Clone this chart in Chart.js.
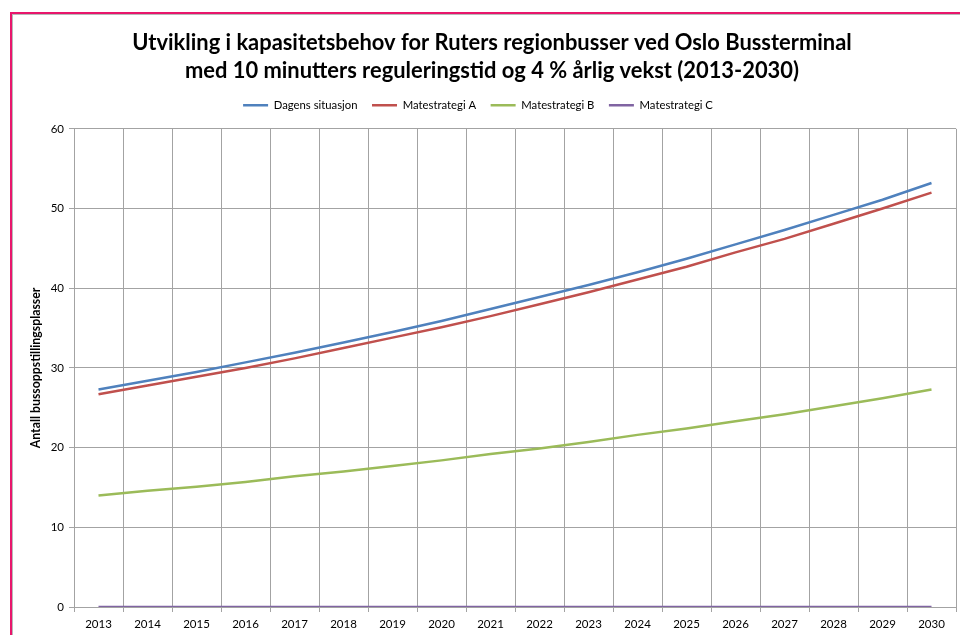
<!DOCTYPE html>
<html>
<head>
<meta charset="utf-8">
<script src="https://cdn.jsdelivr.net/npm/chart.js@4/dist/chart.umd.min.js"></script>
<style>
  html, body { margin: 0; padding: 0; background: #fff; overflow: hidden; }
  #wrap { position: relative; width: 960px; height: 635px; }
  #frame { position: absolute; left: 10px; top: 12px; width: 980px; height: 660px;
           border: 2px solid #e8166c; box-shadow: inset 1px 1px 0 #b8b8b8; pointer-events: none; }
</style>
</head>
<body>
<div id="wrap">
  <canvas id="chart" width="960" height="635"></canvas>
  <div id="frame"></div>
</div>
<script>
const years = ['2013','2014','2015','2016','2017','2018','2019','2020','2021','2022','2023','2024','2025','2026','2027','2028','2029','2030'];
const dagens = [27.3, 28.4, 29.5, 30.7, 31.9, 33.2, 34.5, 35.9, 37.4, 38.9, 40.4, 42.0, 43.7, 45.5, 47.3, 49.2, 51.1, 53.2];
const strategiA = [26.7, 27.8, 28.9, 30.0, 31.2, 32.5, 33.8, 35.1, 36.5, 38.0, 39.5, 41.1, 42.7, 44.5, 46.2, 48.1, 50.0, 52.0];
const strategiB = [14.0, 14.6, 15.1, 15.7, 16.4, 17.0, 17.7, 18.4, 19.2, 19.9, 20.7, 21.6, 22.4, 23.3, 24.2, 25.2, 26.2, 27.3];
const strategiC = [0, 0, 0, 0, 0, 0, 0, 0, 0, 0, 0, 0, 0, 0, 0, 0, 0, 0];

const font = 'Lato, "Open Sans", sans-serif';
const gridColor = '#a3a3a3';

function line(label, data, color) {
  return {
    label: label,
    data: data,
    borderColor: color,
    backgroundColor: color,
    borderWidth: 2.5,
    pointRadius: 0,
    pointStyle: 'line',
    fill: false
  };
}

// empty box between legend and plot area, and nudge the title a bit right
const spacer = {
  id: 'spacer',
  beforeInit(chart) {
    Chart.layouts.addBox(chart, {
      position: 'top', weight: 0, fullSize: true, options: {},
      isHorizontal() { return true; },
      update(maxWidth) { this.width = maxWidth; this.height = 8; },
      draw() {}
    });
  },
  afterLayout(chart) {
    if (chart.titleBlock) chart.titleBlock.left = 28;
  }
};

new Chart(document.getElementById('chart'), {
  type: 'line',
  data: {
    labels: years,
    datasets: [
      line('Dagens situasjon', dagens, '#4f81bd'),
      line('Matestrategi A', strategiA, '#c0504d'),
      line('Matestrategi B', strategiB, '#9bbb59'),
      line('Matestrategi C', strategiC, '#8064a2')
    ]
  },
  plugins: [spacer],
  options: {
    responsive: false,
    animation: false,
    layout: { padding: { left: 0, right: 4, top: 0, bottom: 0 } },
    plugins: {
      title: {
        display: true,
        text: ['Utvikling i kapasitetsbehov for Ruters regionbusser ved Oslo Bussterminal',
               'med 10 minutters reguleringstid og 4 % årlig vekst (2013-2030)'],
        color: '#000',
        font: { family: font, size: 21.9, weight: 'bold', lineHeight: 1.28 },
        padding: { top: 29, bottom: 0 }
      },
      legend: {
        labels: {
          usePointStyle: true,
          pointStyleWidth: 25,
          boxWidth: 25,
          color: '#000',
          padding: 14.5,
          font: { family: font, size: 11.3 }
        }
      },
      tooltip: { enabled: false }
    },
    scales: {
      x: {
        offset: true,
        grid: { offset: true, color: gridColor, tickLength: 5 },
        border: { color: gridColor },
        ticks: { color: '#000', padding: 5, maxRotation: 0, font: { family: font, size: 11.5 } },
        afterFit: function (s) { s.height = 28; }
      },
      y: {
        min: 0,
        max: 60,
        ticks: { stepSize: 10, color: '#000', padding: 5, font: { family: font, size: 11.5 } },
        grid: { color: gridColor, tickLength: 5 },
        border: { color: gridColor },
        title: {
          display: true,
          text: 'Antall bussoppstillingsplasser',
          color: '#000',
          font: { family: font, size: 12.3, weight: 'bold' },
          padding: { top: 29, bottom: 0 }
        },
        afterFit: function (s) { s.width = 74; }
      }
    }
  }
});
</script>
</body>
</html>
